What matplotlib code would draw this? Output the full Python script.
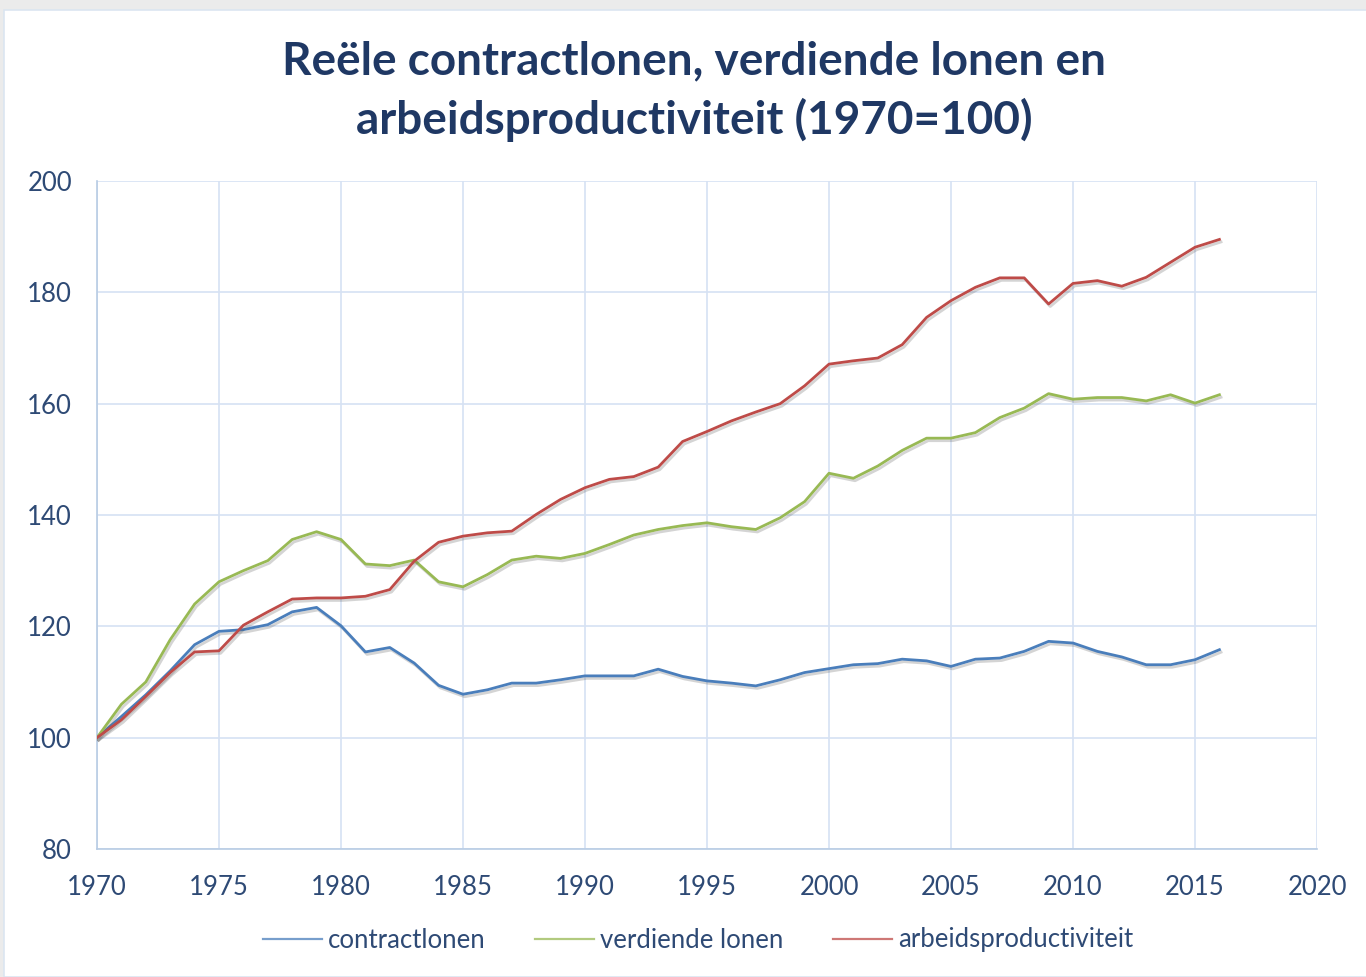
import matplotlib.pyplot as plt
import matplotlib.patheffects as pe
from matplotlib.patches import Rectangle

years = list(range(1970, 2017))

contractlonen = [100, 103.8, 107.7, 112.0, 116.7, 119.1, 119.4, 120.3, 122.6, 123.4,
                 120.1, 115.4, 116.2, 113.4, 109.4, 107.8, 108.6, 109.8, 109.8, 110.4,
                 111.1, 111.1, 111.1, 112.3, 111.0, 110.2, 109.8, 109.3, 110.4, 111.7,
                 112.4, 113.1, 113.3, 114.1, 113.8, 112.8, 114.1, 114.3, 115.5, 117.3,
                 117.0, 115.5, 114.5, 113.1, 113.1, 114.0, 115.8]

verdiende_lonen = [100, 106.0, 110.0, 117.6, 124.0, 128.0, 130.0, 131.8, 135.6, 137.0,
                   135.6, 131.2, 130.9, 131.9, 128.0, 127.1, 129.3, 131.9, 132.6, 132.2,
                   133.1, 134.7, 136.4, 137.4, 138.1, 138.6, 137.9, 137.4, 139.5, 142.4,
                   147.5, 146.6, 148.8, 151.6, 153.8, 153.8, 154.8, 157.5, 159.2, 161.8,
                   160.8, 161.1, 161.1, 160.5, 161.6, 160.1, 161.6]

arbeidsproductiviteit = [100, 103.2, 107.4, 111.7, 115.4, 115.6, 120.2, 122.6, 124.9, 125.1,
                         125.1, 125.4, 126.6, 131.7, 135.1, 136.2, 136.8, 137.1, 140.1, 142.8,
                         144.9, 146.4, 146.9, 148.6, 153.2, 155.0, 156.9, 158.5, 160.0, 163.2,
                         167.1, 167.7, 168.2, 170.6, 175.5, 178.5, 180.9, 182.6, 182.6, 177.9,
                         181.6, 182.1, 181.1, 182.7, 185.4, 188.1, 189.5]

series = [
    ('contractlonen', contractlonen, '#4a7ebb'),
    ('verdiende lonen', verdiende_lonen, '#98b954'),
    ('arbeidsproductiviteit', arbeidsproductiviteit, '#be4b48'),
]

plt.rcParams['font.family'] = ['Lato', 'DejaVu Sans']
text_col = '#1f3864'
label_col = '#2e4a75'

fig = plt.figure(figsize=(13.66, 9.77), dpi=100, facecolor='#ebebeb')
# white chart area with thin border, behind everything
fig.patches.append(Rectangle((4 / 1366, 0), 1.0, 1 - 10 / 977, transform=fig.transFigure,
                             facecolor='white', edgecolor='#dbe5f1', linewidth=1.2,
                             zorder=-10))

ax = fig.add_axes([97 / 1366, 1 - 849 / 977, 1220 / 1366, 668 / 977])
ax.set_facecolor('white')

shadow = [pe.SimpleLineShadow(offset=(1.2, -1.8), shadow_color='#555555', alpha=0.25),
          pe.Normal()]
for name, vals, col in series:
    ax.plot(years, vals, color=col, linewidth=2.0, label=name,
            path_effects=shadow, zorder=3)

ax.set_xlim(1970, 2020)
ax.set_ylim(80, 200)
ax.set_xticks(range(1970, 2021, 5))
ax.set_yticks(range(80, 201, 20))
ax.grid(True, color='#d6e2f3', linewidth=1.2, zorder=0)
ax.set_axisbelow(True)
for s in ['top', 'right']:
    ax.spines[s].set_visible(False)
for s in ['left', 'bottom']:
    ax.spines[s].set_color('#b8cce4')
    ax.spines[s].set_linewidth(1.2)
ax.tick_params(length=0, labelsize=18.5, labelcolor=label_col)
ax.tick_params(axis='y', pad=18)
ax.tick_params(axis='x', pad=19)

fig.text(0.508, 1 - 91 / 977, 'Reële contractlonen, verdiende lonen en\narbeidsproductiviteit (1970=100)',
         ha='center', va='center', fontsize=33, fontweight='bold', color=text_col,
         linespacing=1.42)

leg_handles = [plt.Line2D([], [], color=col, linewidth=1.6, alpha=0.75) for _, _, col in series]
fig.legend(leg_handles, [n for n, _, _ in series], loc='center',
           bbox_to_anchor=(0.511, 1 - 940 / 977), ncol=3, frameon=False,
           fontsize=18.5, labelcolor=label_col, handlelength=2.3, handletextpad=0.25,
           columnspacing=1.9)

fig.savefig('out.png', dpi=100, facecolor=fig.get_facecolor())
